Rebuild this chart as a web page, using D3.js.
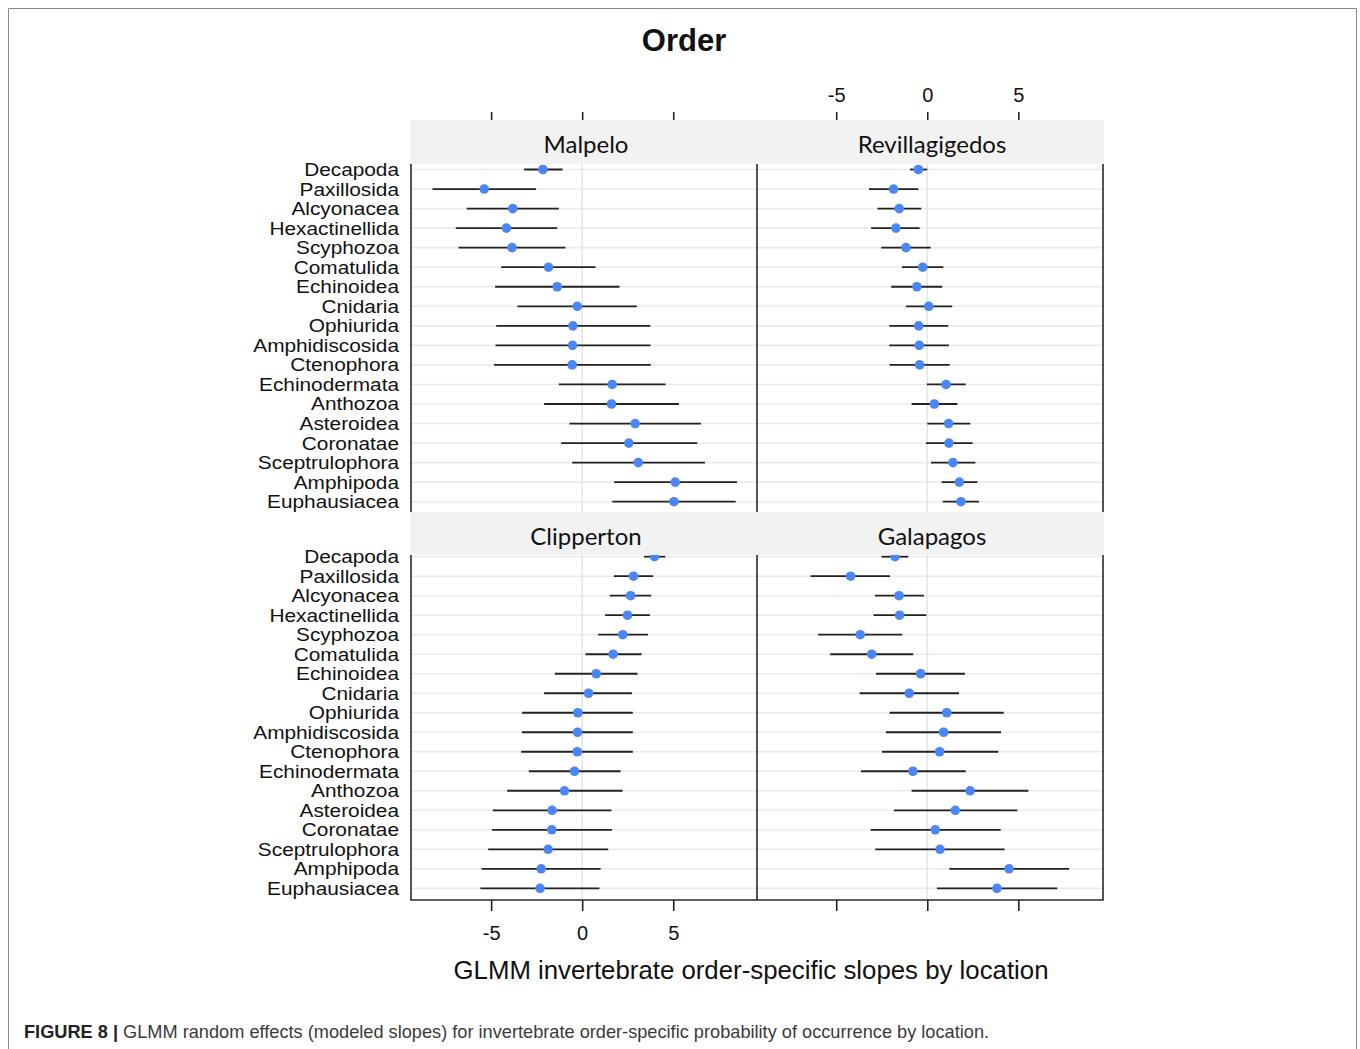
<!DOCTYPE html>
<html><head><meta charset="utf-8">
<script src="https://cdn.jsdelivr.net/npm/d3@7"></script>
<style>
html,body{margin:0;padding:0;background:#fff;}
svg{display:block;}
</style></head>
<body>
<svg id="chart" width="1360" height="1049"></svg>
<script>
const categories = ["Decapoda","Paxillosida","Alcyonacea","Hexactinellida","Scyphozoa","Comatulida","Echinoidea","Cnidaria","Ophiurida","Amphidiscosida","Ctenophora","Echinodermata","Anthozoa","Asteroidea","Coronatae","Sceptrulophora","Amphipoda","Euphausiacea"];
const locations = ["Malpelo","Revillagigedos","Clipperton","Galapagos"];
const tickValues = [-5, 0, 5];
const tickLabels = ["-5", "0", "5"];

const malpeloEst = [-2.16,-5.38,-3.81,-4.16,-3.85,-1.85,-1.37,-0.27,-0.51,-0.53,-0.55,1.65,1.61,2.91,2.56,3.08,5.11,5.04];
const malpeloLo  = [-3.19,-8.22,-6.34,-6.94,-6.79,-4.45,-4.78,-3.55,-4.72,-4.76,-4.84,-1.28,-2.09,-0.70,-1.15,-0.55,1.76,1.65];
const malpeloHi  = [-1.08,-2.53,-1.28,-1.37,-0.92,0.73,2.05,3.00,3.74,3.75,3.77,4.58,5.31,6.52,6.32,6.74,8.50,8.43];

const revillaEst = [-0.49,-1.85,-1.54,-1.72,-1.17,-0.25,-0.57,0.08,-0.47,-0.44,-0.42,1.03,0.39,1.17,1.19,1.41,1.76,1.85];
const revillaLo  = [-0.95,-3.20,-2.73,-3.08,-2.53,-1.39,-1.98,-1.17,-2.09,-2.09,-2.07,-0.02,-0.86,0.00,-0.07,0.20,0.79,0.85];
const revillaHi  = [0.00,-0.49,-0.33,-0.42,0.19,0.88,0.82,1.37,1.15,1.19,1.23,2.11,1.65,2.36,2.49,2.64,2.75,2.84];

const clipEst = [3.97,2.82,2.66,2.49,2.23,1.70,0.77,0.35,-0.24,-0.26,-0.27,-0.42,-0.97,-1.65,-1.67,-1.87,-2.25,-2.31];
const clipLo  = [3.40,1.74,1.52,1.26,0.88,0.18,-1.50,-2.09,-3.30,-3.31,-3.35,-2.93,-4.12,-4.91,-4.95,-5.16,-5.53,-5.59];
const clipHi  = [4.56,3.90,3.79,3.72,3.61,3.26,3.04,2.73,2.78,2.78,2.78,2.11,2.22,1.61,1.63,1.43,1.01,0.95];

const galaEst = [-1.77,-4.21,-1.55,-1.52,-3.68,-3.05,-0.36,-0.99,1.07,0.90,0.68,-0.79,2.35,1.54,0.44,0.70,4.49,3.83];
const galaLo  = [-2.51,-6.41,-2.87,-2.95,-5.99,-5.33,-2.82,-3.71,-2.07,-2.27,-2.49,-3.64,-0.86,-1.83,-3.11,-2.86,1.21,0.53];
const galaHi  = [-1.04,-2.05,-0.18,-0.05,-1.37,-0.77,2.07,1.74,4.20,4.05,3.90,2.11,5.55,4.95,4.03,4.25,7.79,7.14];

const title = "Order";
const xTitle = "GLMM invertebrate order-specific slopes by location";
const captionBold = "FIGURE 8 | ";
const captionText = "GLMM random effects (modeled slopes) for invertebrate order-specific probability of occurrence by location.";

const svg = d3.select("#chart");
const FONT = "'Liberation Sans', Arial, sans-serif";

// outer frame
svg.append("path").attr("d","M8.5,1049 V8.5 H1356.5 V1049").attr("fill","none").attr("stroke","#8a8a8a").attr("stroke-width",1);

// scales
const xLeft = d3.scaleLinear().domain([-9.4, 9.6]).range([411, 757]);
const xRight = d3.scaleLinear().domain([-9.35, 9.65]).range([757, 1103]);
const yTop = d3.scalePoint().domain(categories).range([169.5, 501.7]);
const yBot = d3.scalePoint().domain(categories).range([556.7, 888.3]);

const panels = [
  {name: locations[0], x: xLeft, y: yTop, est: malpeloEst, lo: malpeloLo, hi: malpeloHi, top:164, bot:512},
  {name: locations[1], x: xRight, y: yTop, est: revillaEst, lo: revillaLo, hi: revillaHi, top:164, bot:512},
  {name: locations[2], x: xLeft, y: yBot, est: clipEst, lo: clipLo, hi: clipHi, top:548, bot:900},
  {name: locations[3], x: xRight, y: yBot, est: galaEst, lo: galaLo, hi: galaHi, top:548, bot:900}
];

panels.forEach(p => {
  const g = svg.append("g");
  const [x0, x1] = p.x.range();
  g.selectAll("line.hg").data(categories).join("line")
    .attr("x1", x0).attr("x2", x1)
    .attr("y1", d => p.y(d)).attr("y2", d => p.y(d))
    .attr("stroke", "#ebebeb").attr("stroke-width", 1.6);
  g.append("line").attr("x1", p.x(0)).attr("x2", p.x(0))
    .attr("y1", p.top).attr("y2", p.bot).attr("stroke", "#e6e6e6").attr("stroke-width", 1.6);
  g.selectAll("line.err").data(categories).join("line")
    .attr("x1", (d,i) => p.x(p.lo[i])).attr("x2", (d,i) => p.x(p.hi[i]))
    .attr("y1", d => p.y(d)).attr("y2", d => p.y(d))
    .attr("stroke", "#222").attr("stroke-width", 1.8);
  g.selectAll("circle").data(categories).join("circle")
    .attr("cx", (d,i) => p.x(p.est[i])).attr("cy", d => p.y(d))
    .attr("r", 4.8).attr("fill", "#4a86f7");
});

// panel borders
const border = svg.append("g").attr("stroke", "#2a2a2a").attr("stroke-width", 1.6).attr("fill","none");
[411, 757, 1103].forEach(xv => {
  border.append("line").attr("x1", xv).attr("x2", xv).attr("y1", 164).attr("y2", 512);
  border.append("line").attr("x1", xv).attr("x2", xv).attr("y1", 555).attr("y2", 900);
});
border.append("line").attr("x1", 410.2).attr("x2", 1103.8).attr("y1", 900).attr("y2", 900);

// strips (drawn over data)
const strips = [
  {name: locations[0], x: xLeft, y0: 120, y1: 164},
  {name: locations[1], x: xRight, y0: 120, y1: 164},
  {name: locations[2], x: xLeft, y0: 512, y1: 555},
  {name: locations[3], x: xRight, y0: 512, y1: 555}
];
strips.forEach(s => {
  const [x0, x1] = s.x.range();
  svg.append("rect").attr("x", x0 - 1).attr("y", s.y0).attr("width", x1 - x0 + 2).attr("height", s.y1 - s.y0)
    .attr("fill", "#f2f2f2");
  svg.append("text").attr("x", (x0 + x1) / 2 + 2).attr("y", (s.y0 + s.y1) / 2 + 11)
    .attr("text-anchor", "middle").attr("font-family", "Lato, 'Open Sans', sans-serif")
    .attr("font-size", 24).attr("fill", "#111").text(s.name);
});

// y-axis labels (slightly wide glyphs, as in the reference)
[yTop, yBot].forEach(ys => {
  svg.append("g").selectAll("text").data(categories).join("text")
    .attr("transform", d => `translate(399,${ys(d) + 6.5}) scale(1.19,1)`)
    .attr("x", 0).attr("y", 0)
    .attr("text-anchor", "end").attr("font-family", FONT).attr("font-size", 17.5)
    .attr("fill", "#111").text(d => d);
});

// axes
const fmt = d => tickLabels[tickValues.indexOf(d)];
function styleAxis(g, showLabels) {
  g.select(".domain").remove();
  g.selectAll(".tick line").attr("stroke", "#222").attr("stroke-width", 1.6);
  g.selectAll(".tick text").attr("font-family", FONT).attr("font-size", 20).attr("fill", "#111");
  if (!showLabels) g.selectAll(".tick text").remove();
}
svg.append("g").attr("transform", "translate(0,120)")
  .call(d3.axisTop(xLeft).tickValues(tickValues).tickSize(8).tickPadding(10).tickFormat(fmt))
  .call(g => styleAxis(g, false));
svg.append("g").attr("transform", "translate(0,120)")
  .call(d3.axisTop(xRight).tickValues(tickValues).tickSize(8).tickPadding(10).tickFormat(fmt))
  .call(g => styleAxis(g, true));
svg.append("g").attr("transform", "translate(0,900)")
  .call(d3.axisBottom(xLeft).tickValues(tickValues).tickSize(11).tickPadding(15).tickFormat(fmt))
  .call(g => styleAxis(g, true));
svg.append("g").attr("transform", "translate(0,900)")
  .call(d3.axisBottom(xRight).tickValues(tickValues).tickSize(11).tickPadding(15).tickFormat(fmt))
  .call(g => styleAxis(g, false));

// title
svg.append("text").attr("x", 684).attr("y", 51).attr("text-anchor", "middle")
  .attr("font-family", FONT).attr("font-weight", "bold").attr("font-size", 31).attr("fill", "#111").text(title);

// x axis title
svg.append("text").attr("x", 751).attr("y", 979).attr("text-anchor", "middle")
  .attr("font-family", FONT).attr("font-size", 25.8).attr("fill", "#111").text(xTitle);

// caption
const cap = svg.append("text").attr("x", 24).attr("y", 1038)
  .attr("font-family", FONT).attr("font-size", 18.2).attr("fill", "#3a3a3a");
cap.append("tspan").attr("font-weight", "bold").attr("fill", "#222").text(captionBold);
cap.append("tspan").text(captionText);
</script>
</body></html>
